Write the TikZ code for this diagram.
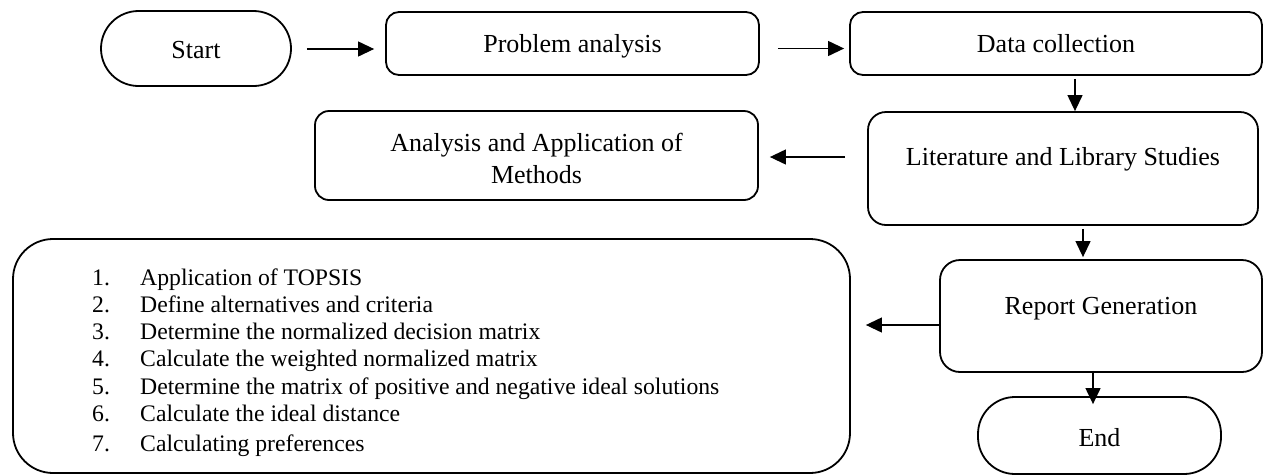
\documentclass[tikz,border=0pt]{standalone}
\usepackage{fontspec}
\setmainfont{Liberation Serif}
\usetikzlibrary{arrows.meta}
\begin{document}
\begin{tikzpicture}[x=1pt,y=-1pt,
  box/.style={draw, line width=1.8pt, rectangle, inner sep=0pt, align=center,
    font=\fontsize{26}{32}\selectfont},
  arr/.style={line width=1.2pt, -{Triangle[length=16pt,width=15pt]}}]
\useasboundingbox (0,0) rectangle (1264,475);

\node[box, rounded corners=37.5pt, minimum width=190pt, minimum height=75pt,
  text height=20pt, text depth=0pt] (start) at (196,48.5) {Start};
\node[box, rounded corners=13pt, minimum width=373pt, minimum height=63pt,
  text height=17pt, text depth=0pt] (prob) at (572.5,43.5) {Problem analysis};
\node[box, rounded corners=13pt, minimum width=412pt, minimum height=63pt,
  text height=17pt, text depth=0pt] (data) at (1056,43.5) {Data collection};
\node[box, rounded corners=18pt, minimum width=390pt, minimum height=113pt,
  text height=17pt, text depth=24pt] (lit) at (1063,168.5) {Literature and Library Studies};
\node[box, rounded corners=14pt, minimum width=443pt, minimum height=89pt]
  (anal) at (536.5,155.5) {\rule{0pt}{24pt}Analysis and Application of\\Methods};
\node[box, rounded corners=20pt, minimum width=322pt, minimum height=112pt,
  text height=17pt, text depth=21pt] (rep) at (1101,316) {Report Generation};
\node[box, rounded corners=37pt, minimum width=243pt, minimum height=77pt,
  text height=21pt, text depth=0pt] (end) at (1099.5,435.5) {End};
\node[box, rounded corners=40pt, minimum width=837pt, minimum height=234pt]
  (topsis) at (431.5,356) {};
\node[anchor=base west, inner sep=0pt, font=\fontsize{23.7}{27.3}\selectfont]
  (steps) at (92,285) {\begin{tabular}[t]{@{}l@{}}
  \makebox[48pt][l]{1.}Application of TOPSIS\\
  \makebox[48pt][l]{2.}Define alternatives and criteria\\
  \makebox[48pt][l]{3.}Determine the normalized decision matrix\\
  \makebox[48pt][l]{4.}Calculate the weighted normalized matrix\\
  \makebox[48pt][l]{5.}Determine the matrix of positive and negative ideal solutions\\
  \makebox[48pt][l]{6.}Calculate the ideal distance\\[2.7pt]
  \makebox[48pt][l]{7.}Calculating preferences
  \end{tabular}};

\draw[arr] ([xshift=15pt,yshift=-0.5pt]start.east) -- ([xshift=-11pt,yshift=-0.5pt]prob.west |- start.east);
\draw[arr] ([xshift=18pt,yshift=-5pt]prob.east) -- ([xshift=-5pt,yshift=-5pt]data.west);
\draw[arr] ([xshift=19pt,yshift=-3pt]data.south) -- ([xshift=12pt]lit.north);
\draw[arr] ([xshift=-22pt,yshift=11.5pt]lit.west) -- ([xshift=11pt,yshift=11.5pt]anal.east |- lit.west);
\draw[arr] ([xshift=20pt,yshift=-3pt]lit.south) -- ([xshift=-18pt,yshift=2pt]rep.north);
\draw[arr] ([yshift=-9pt]rep.west) -- ([xshift=15pt,yshift=-9pt]topsis.east |- rep.west);
\draw[arr] ([xshift=-8pt,yshift=2pt]rep.south) -- ([xshift=-6.5pt,yshift=-8pt]end.north);
\end{tikzpicture}
\end{document}
